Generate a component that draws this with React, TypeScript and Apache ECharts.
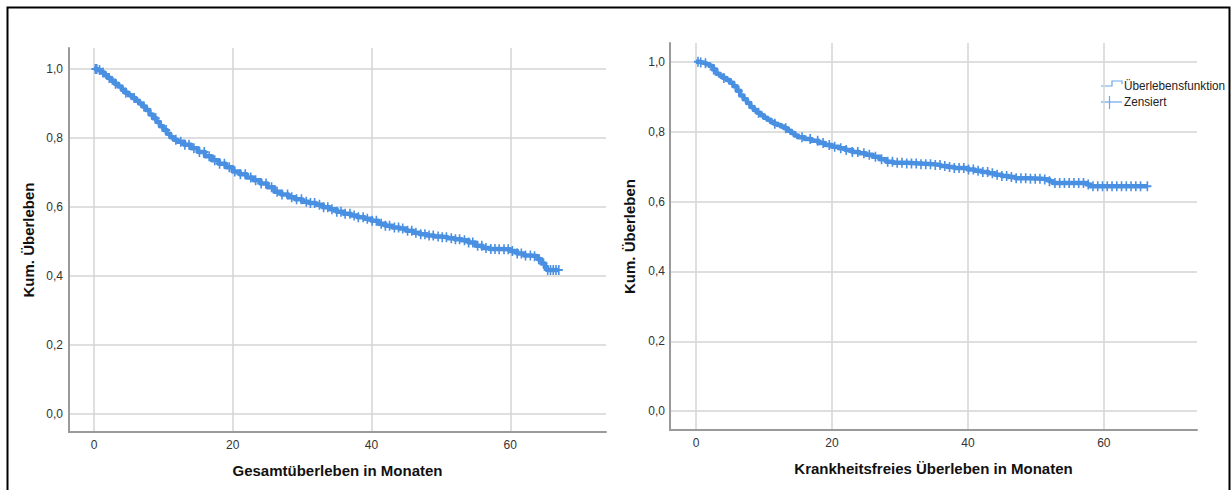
import { useEffect, useRef } from "react";
import * as echarts from "echarts";

// Kaplan-Meier step points: [month, cumulative survival]
const osSteps: [number, number][] = [
  [0, 1.0], [0.5, 0.997], [1, 0.99], [1.5, 0.982], [2, 0.974], [2.5, 0.966], [3, 0.957],
  [3.5, 0.949], [4, 0.94], [4.5, 0.931], [5, 0.924], [5.5, 0.916], [6, 0.908], [6.5, 0.9],
  [7, 0.891], [7.5, 0.881], [8, 0.868], [8.5, 0.857], [9, 0.846], [9.5, 0.834], [10, 0.823],
  [10.5, 0.812], [11, 0.802], [11.5, 0.795], [12, 0.789], [13, 0.78], [14, 0.77], [15, 0.759],
  [16, 0.747], [17, 0.735], [18, 0.725], [19, 0.715], [20, 0.703], [21, 0.695], [22, 0.685],
  [23, 0.677], [24, 0.668], [25, 0.657], [26, 0.644], [27, 0.636], [28, 0.628], [29, 0.622],
  [30, 0.615], [31, 0.611], [32, 0.606], [33, 0.599], [34, 0.593], [35, 0.586], [36, 0.58],
  [37, 0.575], [38, 0.57], [39, 0.566], [40, 0.56], [41, 0.551], [42, 0.545], [43, 0.54],
  [44, 0.537], [45, 0.531], [46, 0.525], [47, 0.521], [48, 0.517], [49, 0.514], [50, 0.512],
  [51, 0.509], [52, 0.506], [53, 0.503], [54, 0.497], [55, 0.487], [56, 0.481], [57, 0.478],
  [58, 0.477], [60, 0.472], [61, 0.465], [62, 0.459], [63, 0.457], [64, 0.448], [64.5, 0.436],
  [65, 0.425], [65.3, 0.417],
];

// censoring times (months), overall survival
const osCensored: number[] = [
  0.2, 0.4, 0.8, 1.3, 2.2, 3.1, 4.6, 5.8, 7.2, 8.9, 10.4, 11.8, 12.5, 13.1, 13.7, 14.4, 15.2,
  15.9, 16.6, 17.4, 18.1, 18.8, 19.5, 20.3, 21.1, 21.8, 22.6, 23.3, 24.1, 24.8, 25.6, 26.4,
  27.1, 27.9, 28.5, 29.2, 29.9, 30.6, 31.2, 31.8, 32.5, 33.1, 33.7, 34.3, 35.0, 35.6, 36.2,
  36.9, 37.5, 38.1, 38.8, 39.4, 40.1, 40.7, 41.4, 42.0, 42.6, 43.3, 43.9, 44.5, 45.2, 45.8,
  46.4, 47.1, 47.7, 48.3, 48.9, 49.6, 50.2, 50.8, 51.5, 52.1, 52.7, 53.4, 54.0, 54.6, 55.3,
  55.9, 56.5, 57.2, 57.8, 58.4, 59.1, 59.7, 60.3, 61.0, 61.6, 62.2, 62.9, 63.5, 64.1, 64.8,
  65.4, 65.8, 66.2, 66.6, 67.0,
];

const dfsSteps: [number, number][] = [
  [0, 1.0], [0.5, 0.998], [1, 0.996], [1.5, 0.993], [2, 0.988], [2.5, 0.978], [3, 0.966],
  [3.5, 0.96], [4, 0.954], [4.5, 0.948], [5, 0.94], [5.5, 0.93], [6, 0.917], [6.5, 0.904],
  [7, 0.893], [7.5, 0.882], [8, 0.871], [8.5, 0.862], [9, 0.854], [9.5, 0.847], [10, 0.84],
  [10.5, 0.834], [11, 0.828], [11.5, 0.823], [12, 0.819], [12.5, 0.815], [13, 0.81],
  [13.5, 0.803], [14, 0.796], [14.5, 0.789], [15, 0.784], [16, 0.779], [17, 0.774],
  [18, 0.768], [19, 0.762], [20, 0.757], [21, 0.753], [22, 0.748], [23, 0.742], [24, 0.738],
  [25, 0.734], [26, 0.728], [27, 0.721], [28, 0.714], [29, 0.711], [31, 0.709], [33, 0.707],
  [35, 0.705], [36, 0.702], [37, 0.699], [38, 0.696], [40, 0.692], [41, 0.688], [42, 0.685],
  [43, 0.681], [44, 0.677], [45, 0.673], [46, 0.67], [47, 0.667], [49, 0.665], [51, 0.663],
  [52, 0.658], [52.5, 0.653], [57.5, 0.649], [58, 0.644],
];

// censoring times (months), disease-free survival
const dfsCensored: number[] = [
  0.3, 0.7, 1.4, 2.6, 4.1, 6.3, 9.2, 11.6, 13.2, 15.6, 16.8, 17.9, 18.7, 19.6, 20.4, 21.3,
  22.1, 23.0, 23.8, 24.7, 25.5, 26.4, 27.3, 28.2, 28.9, 29.6, 30.3, 31.0, 31.7, 32.4, 33.1,
  33.8, 34.5, 35.2, 35.9, 36.6, 37.3, 38.0, 38.7, 39.4, 40.1, 40.8, 41.5, 42.2, 42.9, 43.6,
  44.3, 45.0, 45.7, 46.4, 47.1, 47.8, 48.5, 49.2, 49.9, 50.6, 51.3, 52.0, 52.8, 53.5, 54.2,
  54.9, 55.6, 56.3, 57.0, 57.7, 58.4, 59.1, 59.8, 60.5, 61.2, 61.9, 62.6, 63.3, 64.0, 64.7,
  65.4, 66.4,
];

const xTicks = [0, 20, 40, 60];
const yTicks = [0, 0.2, 0.4, 0.6, 0.8, 1.0];

const legendLabels = ["Überlebensfunktion", "Zensiert"];
const yTitle = "Kum. Überleben";
const osTitle = "Gesamtüberleben in Monaten";
const dfsTitle = "Krankheitsfreies Überleben in Monaten";

const BLUE = "#4a90e2";
const TICK_FONT = "'Liberation Sans Narrow', 'Arial Narrow', 'Liberation Sans', Arial, sans-serif";
const TITLE_FONT = "'Liberation Sans', Arial, sans-serif";

function survivalAt(steps: [number, number][], t: number): number {
  let v = steps[0][1];
  for (const [m, s] of steps) {
    if (m <= t) v = s;
    else break;
  }
  return v;
}

function curve(steps: [number, number][], censored: number[]): [number, number][] {
  const last = steps[steps.length - 1];
  const end = Math.max(last[0], censored[censored.length - 1]);
  return [...steps, [end, last[1]]];
}

function marks(steps: [number, number][], censored: number[]): [number, number][] {
  return censored.map((t) => [t, survivalAt(steps, t)]);
}

const decimalComma = (v: number) => v.toFixed(1).replace(".", ",");

function xAxisFor(gridIndex: number, min: number, max: number, name: string) {
  return {
    type: "value",
    gridIndex,
    min,
    max,
    name,
    nameLocation: "middle",
    nameGap: 31,
    nameTextStyle: { fontFamily: TITLE_FONT, fontSize: 15, fontWeight: "bold", color: "#111" },
    axisLine: { show: true, onZero: false, lineStyle: { color: "#9a9a9a", width: 2 } },
    axisTick: { show: false, customValues: xTicks },
    axisLabel: { customValues: xTicks, margin: 7, fontFamily: TICK_FONT, fontSize: 12, color: "#333" },
    splitLine: { show: true, lineStyle: { color: "#d4d4d4", width: 1.5 } },
  };
}

function yAxisFor(gridIndex: number, min: number, max: number, margin: number) {
  return {
    type: "value",
    gridIndex,
    min,
    max,
    name: yTitle,
    nameLocation: "middle",
    nameGap: 33,
    nameRotate: 90,
    nameTextStyle: { fontFamily: TITLE_FONT, fontSize: 15, fontWeight: "bold", color: "#111" },
    axisLine: { show: true, onZero: false, lineStyle: { color: "#9a9a9a", width: 2 } },
    axisTick: { show: false, customValues: yTicks },
    axisLabel: {
      customValues: yTicks,
      margin,
      formatter: decimalComma,
      fontFamily: TICK_FONT,
      fontSize: 12,
      color: "#333",
    },
    splitLine: { show: true, lineStyle: { color: "#d4d4d4", width: 1.5 } },
  };
}

function seriesFor(axisIndex: number, steps: [number, number][], censored: number[]) {
  return [
    {
      type: "line",
      xAxisIndex: axisIndex,
      yAxisIndex: axisIndex,
      step: "end",
      data: curve(steps, censored),
      showSymbol: false,
      lineStyle: { color: BLUE, width: 4.5, join: "round" },
      z: 3,
    },
    {
      type: "scatter",
      xAxisIndex: axisIndex,
      yAxisIndex: axisIndex,
      data: marks(steps, censored),
      symbol: "path://M0,5L8,5M4,0L4,10",
      symbolSize: [8, 10],
      itemStyle: { color: "transparent", borderColor: BLUE, borderWidth: 1.8, opacity: 1 },
      z: 4,
    },
  ];
}

export default function App() {
  const ref = useRef<HTMLDivElement>(null);

  useEffect(() => {
    if (!ref.current) return;
    const chart = echarts.init(ref.current, null, { renderer: "svg" });
    const legendBlue = "#6aa7ec";
    const legendText = (text: string, y: number) => ({
      type: "text",
      x: 1124,
      y,
      scaleX: 0.87,
      style: {
        text,
        fontFamily: TITLE_FONT,
        fontSize: 13.5,
        fill: "#222",
        verticalAlign: "middle",
      },
    });
    chart.setOption({
      animation: false,
      backgroundColor: "#fff",
      grid: [
        { left: 69, top: 48, width: 537, height: 384 },
        { left: 670, top: 43, width: 527, height: 387 },
      ],
      xAxis: [xAxisFor(0, -3.6, 73.8, osTitle), xAxisFor(1, -3.82, 73.7, dfsTitle)],
      yAxis: [yAxisFor(0, -0.053, 1.061, 6), yAxisFor(1, -0.054, 1.054, 5)],
      series: [...seriesFor(0, osSteps, osCensored), ...seriesFor(1, dfsSteps, dfsCensored)],
      graphic: [
        {
          type: "rect",
          shape: { x: 7.5, y: 7.5, width: 1222, height: 500 },
          style: { fill: "none", stroke: "#000", lineWidth: 2 },
          silent: true,
        },
        {
          type: "polyline",
          shape: { points: [[1101, 86], [1112, 86], [1112, 81], [1122, 81], [1122, 84]] },
          style: { fill: "none", stroke: legendBlue, lineWidth: 1.2 },
        },
        {
          type: "line",
          shape: { x1: 1101, y1: 102, x2: 1122, y2: 102 },
          style: { stroke: legendBlue, lineWidth: 1.2 },
        },
        {
          type: "line",
          shape: { x1: 1109.5, y1: 96, x2: 1109.5, y2: 109 },
          style: { stroke: legendBlue, lineWidth: 1.2 },
        },
        legendText(legendLabels[0], 86),
        legendText(legendLabels[1], 102),
      ],
    });
    return () => chart.dispose();
  }, []);

  return (
    <div
      ref={ref}
      style={{ position: "absolute", left: 0, top: 0, width: 1231, height: 490 }}
    />
  );
}
